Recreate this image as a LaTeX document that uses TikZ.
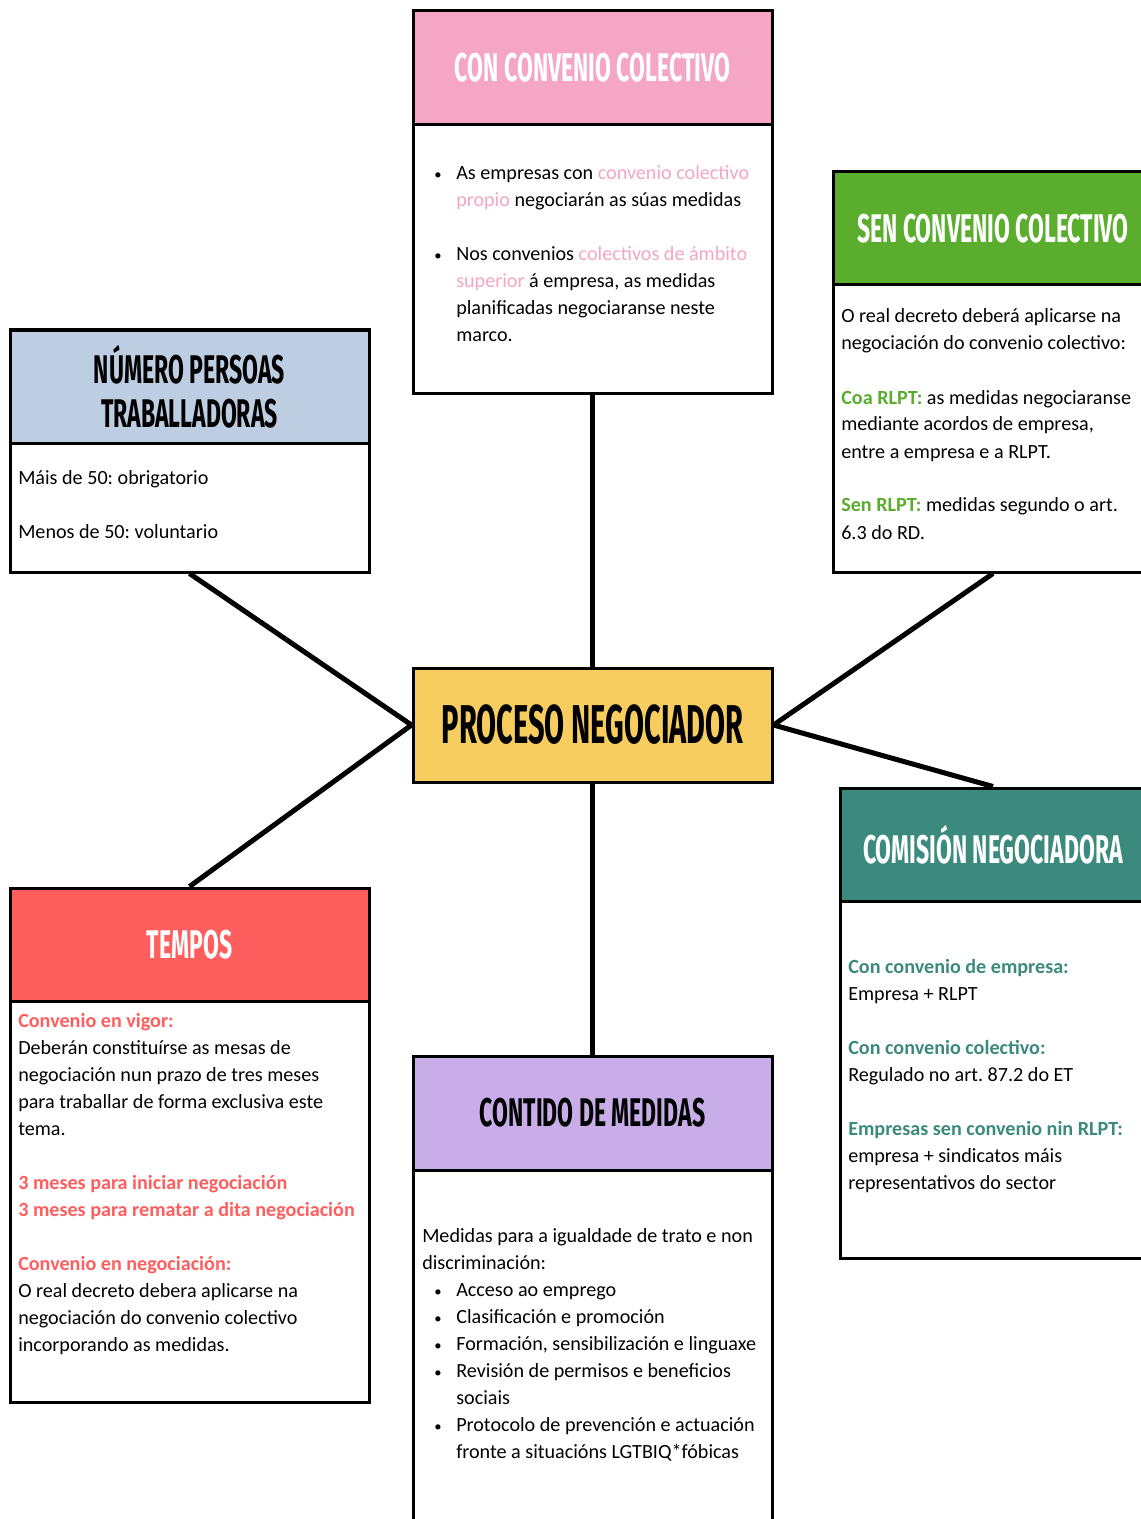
\documentclass[tikz,border=0pt]{standalone}
\usepackage{fontspec}
\setmainfont{Carlito}
\newfontfamily\headfont{Fira Sans}[FakeStretch=0.575]
\newfontfamily\procfont{Fira Sans}[FakeStretch=0.53]
\usetikzlibrary{positioning,backgrounds}

\definecolor{pinkH}{HTML}{F5A6C5}
\definecolor{greenH}{HTML}{5BAD2E}
\definecolor{blueH}{HTML}{BDCDE2}
\definecolor{yellowH}{HTML}{F8CD5F}
\definecolor{redH}{HTML}{FF5E5E}
\definecolor{tealH}{HTML}{3B8A7D}
\definecolor{purpleH}{HTML}{C8ADE9}

\newcommand\pxu{0.75pt}
\newcommand\bodyfs{\frenchspacing\fontsize{15.1}{20.25}\selectfont}
\newcommand\headfs{\headfont\bfseries\fontsize{30}{33}\selectfont}
\newcommand\pk[1]{\textcolor{pinkH}{#1}}
\newcommand\gr[1]{\textcolor{greenH}{\bfseries #1}}
\newcommand\rd[1]{\textcolor{redH}{\bfseries #1}}
\newcommand\tl[1]{\textcolor{tealH}{\bfseries #1}}
\newcommand\bul{\hspace*{-1.5pt}{\fontsize{11}{11}\selectfont\textbullet}}

\tikzset{
  head/.style={draw=black, line width=3*\pxu, inner sep=0pt, align=center,
    minimum width=359*\pxu, minimum height=114*\pxu, font=\headfs},
  frame/.style={draw=black, fill=white, line width=3*\pxu, inner sep=0pt,
    minimum width=359*\pxu},
  txt/.style={anchor=base west, inner sep=0pt, font=\bodyfs},
  link/.style={line width=5*\pxu},
}

\begin{document}
\begin{tikzpicture}[x=0.75pt,y=-0.75pt]
	\useasboundingbox (0,0) rectangle (1140,1519);
	% Centre
	\node[head, fill=yellowH, font=\procfont\bfseries\fontsize{41}{45}\selectfont] (proc) at (592.5,725) {PROCESO NEGOCIADOR};
	% Con convenio colectivo
	\node[head, fill=pinkH, text=white] (conH) at (592.5,68) {CON CONVENIO COLECTIVO};
	\node[frame, minimum height=268*\pxu] (conB) at (592.5,259) {};
	\node[txt] (conT) at (436,180) {\begin{tabular}[t]{@{}p{15pt}@{}l@{}}
		\bul & As empresas con \pk{convenio colectivo}\\
		& \pk{propio} negociarán as súas medidas\\
		& \\
		\bul & Nos convenios \pk{colectivos de ámbito}\\
		& \pk{superior} á empresa, as medidas\\
		& planificadas negociaranse neste\\
		& marco.
	\end{tabular}};
	% Sen convenio colectivo
	\node[head, fill=greenH, text=white, minimum width=320*\pxu, minimum height=113*\pxu] (senH) at (993,228.5) {SEN CONVENIO COLECTIVO};
	\node[frame, minimum width=320*\pxu, minimum height=287*\pxu] (senB) at (993,428.5) {};
	\node[txt] (senT) at (841,323) {\begin{tabular}[t]{@{}l@{}}
		O real decreto deberá aplicarse na\\
		negociación do convenio colectivo:\\
		\\
		\gr{Coa RLPT:} as medidas negociaranse\\
		mediante acordos de empresa,\\
		entre a empresa e a RLPT.\\
		\\
		\gr{Sen RLPT:} medidas segundo o art.\\
		6.3 do RD.
	\end{tabular}};
	% Numero persoas
	\node[head, fill=blueH, minimum height=113*\pxu] (numH) at (189.5,386.5) {NÚMERO PERSOAS\\TRABALLADORAS};
	\node[frame, minimum height=129*\pxu] (numB) at (189.5,507.5) {};
	\node[txt] (numT) at (18,484) {\begin{tabular}[t]{@{}l@{}}
		Máis de 50: obrigatorio\\
		\\
		Menos de 50: voluntario
	\end{tabular}};
	% Tempos
	\node[head, fill=redH, text=white, minimum height=113*\pxu] (temH) at (189.5,944.5) {TEMPOS};
	\node[frame, minimum height=401*\pxu] (temB) at (189.5,1201.5) {};
	\node[txt] (temT) at (18,1027) {\begin{tabular}[t]{@{}l@{}}
		\rd{Convenio en vigor:}\\
		Deberán constituírse as mesas de\\
		negociación nun prazo de tres meses\\
		para traballar de forma exclusiva este\\
		tema.\\
		\\
		\rd{3 meses para iniciar negociación}\\
		\rd{3 meses para rematar a dita negociación}\\
		\\
		\rd{Convenio en negociación:}\\
		O real decreto debera aplicarse na\\
		negociación do convenio colectivo\\
		incorporando as medidas.
	\end{tabular}};
	% Comision negociadora
	\node[head, fill=tealH, text=white, minimum width=306*\pxu, minimum height=113*\pxu] (comH) at (993,844.5) {COMISIÓN NEGOCIADORA};
	\node[frame, minimum width=306*\pxu, minimum height=357*\pxu] (comB) at (993,1079.5) {};
	\node[txt] (comT) at (848,973) {\begin{tabular}[t]{@{}l@{}}
		\tl{Con convenio de empresa:}\\
		Empresa + RLPT\\
		\\
		\tl{Con convenio colectivo:}\\
		Regulado no art. 87.2 do ET\\
		\\
		\tl{Empresas sen convenio nin RLPT:}\\
		empresa + sindicatos máis\\
		representativos do sector
	\end{tabular}};
	% Contido de medidas
	\node[head, fill=purpleH] (medH) at (592.5,1113) {CONTIDO DE MEDIDAS};
	\node[frame, minimum height=370*\pxu] (medB) at (592.5,1355) {};
	\node[txt] (medT) at (422,1242) {\begin{tabular}[t]{@{}p{10.5pt}@{}p{15pt}@{}l@{}}
		\multicolumn{3}{@{}l@{}}{Medidas para a igualdade de trato e non}\\
		\multicolumn{3}{@{}l@{}}{discriminación:}\\
		& \bul & Acceso ao emprego\\
		& \bul & Clasificación e promoción\\
		& \bul & Formación, sensibilización e linguaxe\\
		& \bul & Revisión de permisos e beneficios\\
		& & sociais\\
		& \bul & Protocolo de prevención e actuación\\
		& & fronte a situacións LGTBIQ*fóbicas
	\end{tabular}};
	% Connectors
	\begin{scope}[on background layer]
		\fill[white] (0,0) rectangle (1140,1519);
		\draw[link] (conB.south) -- (proc.north);
		\draw[link] (proc.south) -- (medH.north);
		\draw[link] (numB.south) -- (proc.west) -- (temH.north);
		\draw[link] (senB.south) -- (proc.east) -- (comH.north);
	\end{scope}
\end{tikzpicture}
\end{document}
